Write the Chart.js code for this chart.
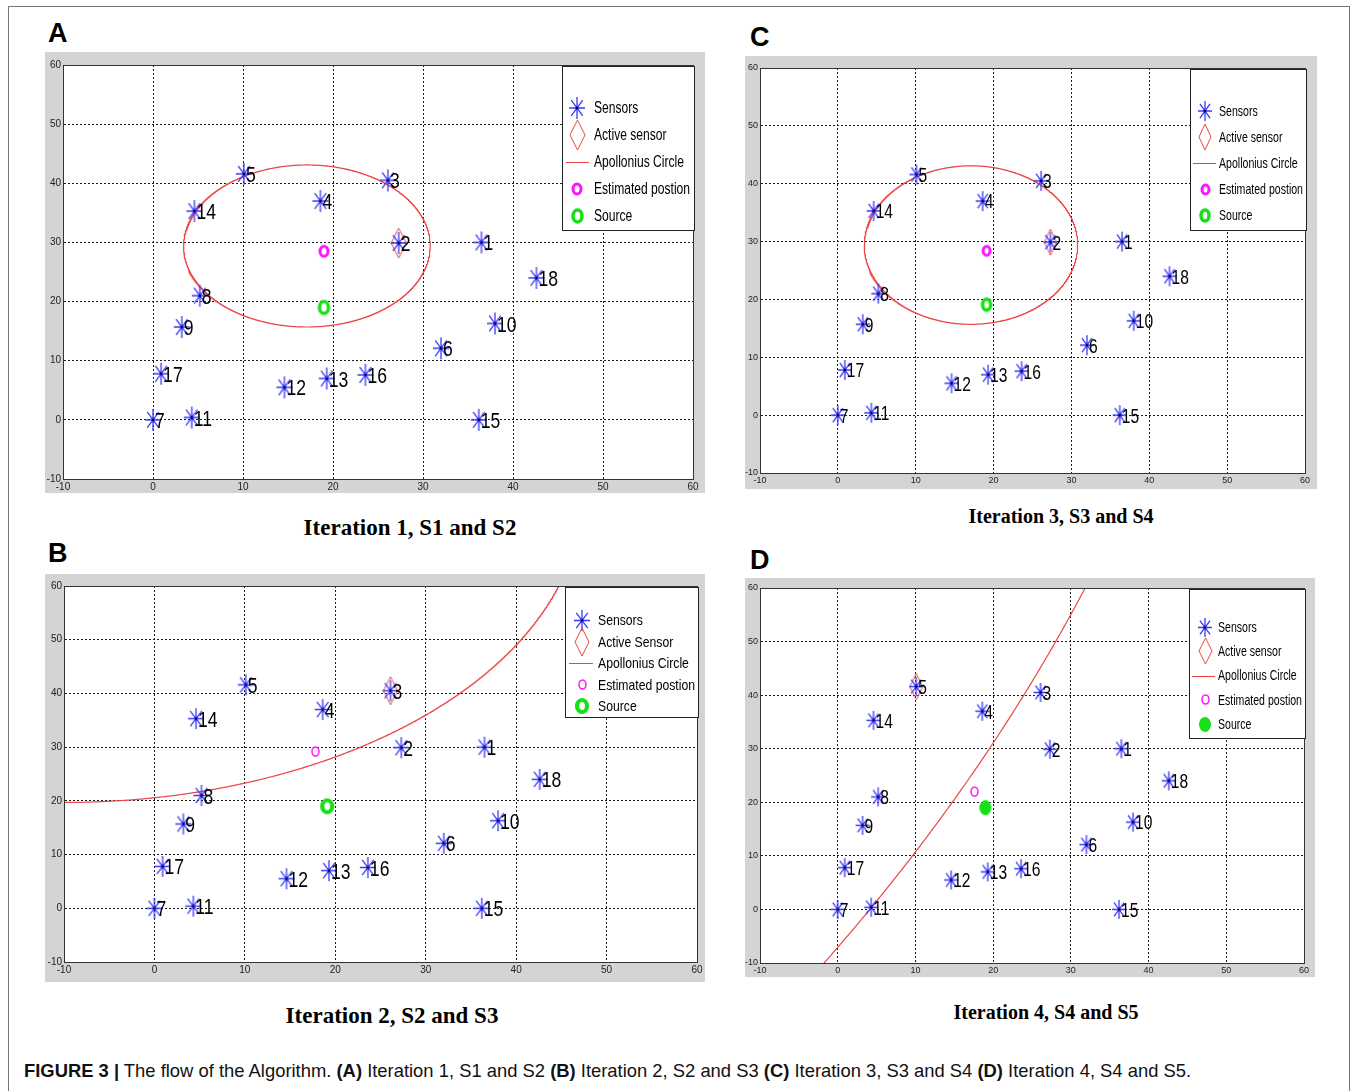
<!DOCTYPE html>
<html><head><meta charset="utf-8">
<script src="https://cdn.jsdelivr.net/npm/chart.js@4.4.1/dist/chart.umd.min.js"></script>
<style>
html,body{margin:0;padding:0;background:#fff;}
body{width:1356px;height:1091px;position:relative;overflow:hidden;font-family:"Liberation Sans",Arial,sans-serif;}
.outer{position:absolute;left:8px;top:6px;width:1342px;height:1110px;border:1px solid #777;box-sizing:border-box;}
.letter{position:absolute;font:bold 27px/27px "Liberation Sans",Arial,sans-serif;color:#000;}
.sub{position:absolute;font-family:"Liberation Serif","Times New Roman",serif;font-weight:bold;color:#000;white-space:nowrap;transform:translate(-50%,-50%);line-height:1;}
canvas{position:absolute;}
.cap{position:absolute;left:24px;top:1059px;font:18.4px/24px "Liberation Sans",Arial,sans-serif;white-space:nowrap;color:#111;}
</style></head>
<body>
<div class="outer"></div>
<div class="cap" id="cap"><b>FIGURE 3 |</b> The flow of the Algorithm. <b>(A)</b> Iteration 1, S1 and S2 <b>(B)</b> Iteration 2, S2 and S3 <b>(C)</b> Iteration 3, S3 and S4 <b>(D)</b> Iteration 4, S4 and S5.</div>
<script>
// ---------------- DATA ----------------
const panelKeys = ['A', 'B', 'C', 'D'];
const panelTitles = ['Iteration 1, S1 and S2', 'Iteration 2, S2 and S3', 'Iteration 3, S3 and S4', 'Iteration 4, S4 and S5'];
const sensorIds = ['1','2','3','4','5','6','7','8','9','10','11','12','13','14','15','16','17','18'];
const sensorX = [36.5, 27.3, 26.1, 18.6, 10.1, 32.0, 0.0, 5.2, 3.2, 38.0, 4.3, 14.6, 19.3, 4.6, 36.2, 23.6, 0.9, 42.6];
const sensorY = [30.0, 29.9, 40.5, 37.0, 41.6, 12.1, 0.0, 21.0, 15.7, 16.3, 0.4, 5.5, 7.0, 35.3, 0.0, 7.6, 7.8, 24.0];
const activeSensor = [2, 3, 2, 5];            // per panel A,B,C,D
const estimatedX = [19.0, 17.8, 19.1, 17.6];
const estimatedY = [28.5, 29.2, 28.4, 22.0];
const sourceX = [19.0, 19.1, 19.1, 19.0];
const sourceY = [19.0, 19.0, 19.1, 19.0];
const circleCx = [17.1, -10.0, 17.1, -338.0];
const circleCy = [29.4, 77.0, 29.4, 194.4];
const circleR = [13.7, 57.3, 13.7, 393.5];
const tickValues = [-10, 0, 10, 20, 30, 40, 50, 60];
const legendLabelsA = ['Sensors', 'Active sensor', 'Apollonius Circle', 'Estimated postion', 'Source'];
const legendLabelsB = ['Sensors', 'Active Sensor', 'Apollonius Circle', 'Estimated postion', 'Source'];
const legendLabels = [legendLabelsA, legendLabelsB, legendLabelsA, legendLabelsA];

// ---------------- LAYOUT / STYLE ----------------
const layouts = [
 { frame:[45,52,705,493], plot:[63,65,693,479], star:[16,22], diamond:[15,30],
   est:{rx:4,ry:5,lw:3,fill:false}, src:{rx:4.5,ry:6,lw:3.5,fill:false},
   label:{size:22,sx:0.8,dx:2,dy:2}, tick:10,
   legend:{w:132,h:164,first:42,step:27,sym:15,text:32,font:16,fit:96,line:[4,27]},
   letter:[48,20], sub:{x:410,y:527,size:23} },
 { frame:[45,574,705,982], plot:[64,586,697,962], star:[16,21], diamond:[14,28],
   est:{rx:3.5,ry:4.5,lw:1.5,fill:false}, src:{rx:5,ry:6,lw:4.2,fill:false},
   label:{size:22,sx:0.8,dx:2,dy:2}, tick:10,
   legend:{w:133,h:130,first:33,step:21.5,sym:17,text:33,font:15,fit:97,line:[4,28]},
   letter:[48,540], sub:{x:392,y:1015,size:23} },
 { frame:[745,56,1317,489], plot:[760,68,1305,473], star:[14,20], diamond:[12,26],
   est:{rx:3.5,ry:4.5,lw:3,fill:false}, src:{rx:4,ry:5.5,lw:3.5,fill:false},
   label:{size:19.5,sx:0.8,dx:2,dy:2}, tick:9,
   legend:{w:116,h:161,first:42,step:26,sym:15,text:29,font:14.5,fit:84,line:[3,26]},
   letter:[750,24], sub:{x:1061,y:516,size:20} },
 { frame:[745,578,1315,977], plot:[760,588,1304,963], star:[14,19], diamond:[13,26],
   est:{rx:3.5,ry:4.5,lw:1.5,fill:false}, src:{rx:6,ry:7.5,lw:0,fill:true},
   label:{size:19.5,sx:0.8,dx:2,dy:2}, tick:9,
   legend:{w:116,h:149,first:38,step:24.3,sym:16,text:29,font:14,fit:84,line:[3,26]},
   letter:[750,547], sub:{x:1046,y:1012,size:20} }
];
const BLUE = '#3a3af2', RED = '#ec4646', MAGENTA = '#ff14ff', GREEN = '#18e018', GRAY = '#d4d4d4';

// ---------------- marker images ----------------
function starImg(w, h) {
  const c = document.createElement('canvas'); c.width = w + 2; c.height = h + 2;
  const x = c.getContext('2d'); const cx = c.width / 2, cy = c.height / 2;
  x.strokeStyle = BLUE; x.lineWidth = 1.3; x.beginPath();
  x.moveTo(cx, 1); x.lineTo(cx, h + 1);
  x.moveTo(1, cy); x.lineTo(w + 1, cy);
  x.moveTo(cx - w * 0.36, cy - h * 0.36); x.lineTo(cx + w * 0.36, cy + h * 0.36);
  x.moveTo(cx + w * 0.36, cy - h * 0.36); x.lineTo(cx - w * 0.36, cy + h * 0.36);
  x.stroke();
  x.fillStyle = '#00007a'; x.fillRect(cx - 1.2, cy - 1.2, 2.4, 2.4);
  return c;
}
function diamondImg(w, h) {
  const c = document.createElement('canvas'); c.width = w + 2; c.height = h + 2;
  const x = c.getContext('2d'); const cx = c.width / 2, cy = c.height / 2;
  x.strokeStyle = RED; x.lineWidth = 1; x.beginPath();
  x.moveTo(cx, 1); x.lineTo(w + 1, cy); x.lineTo(cx, h + 1); x.lineTo(1, cy); x.closePath(); x.stroke();
  return c;
}
function ringImg(s, color) {
  const pad = Math.ceil(s.lw / 2) + 2;
  const c = document.createElement('canvas'); c.width = Math.ceil(2 * s.rx + 2 * pad); c.height = Math.ceil(2 * s.ry + 2 * pad);
  const x = c.getContext('2d'); x.beginPath();
  x.ellipse(c.width / 2, c.height / 2, s.rx, s.ry, 0, 0, Math.PI * 2);
  if (s.fill) { x.fillStyle = color; x.fill(); } else { x.strokeStyle = color; x.lineWidth = s.lw; x.stroke(); }
  return c;
}
function circlePoints(cx, cy, r) {
  const pts = []; const n = 4000;
  for (let i = 0; i <= n; i++) {
    const a = -Math.PI + 2 * Math.PI * i / n;
    const px = cx + r * Math.cos(a), py = cy + r * Math.sin(a);
    if (px >= -13 && px <= 63 && py >= -13 && py <= 63) pts.push({ x: px, y: py });
  }
  return pts;
}

// ---------------- plugins ----------------
const framePlugin = {
  id: 'frame',
  beforeDraw(chart) {
    const c = chart.ctx, a = chart.chartArea;
    c.save(); c.fillStyle = GRAY; c.fillRect(0, 0, chart.width, chart.height);
    c.fillStyle = '#fff'; c.fillRect(a.left, a.top, a.right - a.left, a.bottom - a.top); c.restore();
  },
  afterDatasetsDraw(chart, args, o) {
    const c = chart.ctx, a = chart.chartArea, xs = chart.scales.x, ys = chart.scales.y;
    c.save();
    c.beginPath(); c.rect(a.left, a.top, a.right - a.left, a.bottom - a.top); c.clip();
    c.font = o.label.size + 'px "Liberation Sans", Arial, sans-serif';
    c.fillStyle = '#000'; c.textBaseline = 'middle'; c.textAlign = 'left';
    sensorIds.forEach((id, k) => {
      const px = xs.getPixelForValue(sensorX[k]), py = ys.getPixelForValue(sensorY[k]);
      c.save(); c.translate(px + o.label.dx, py + o.label.dy); c.scale(o.label.sx, 1); c.fillText(id, 0, 0); c.restore();
    });
    c.restore();
  },
  afterDraw(chart, args, o) {
    const c = chart.ctx, a = chart.chartArea;
    c.save();
    c.strokeStyle = '#333'; c.lineWidth = 1;
    c.strokeRect(Math.round(a.left) + 0.5, Math.round(a.top) + 0.5, Math.round(a.right - a.left), Math.round(a.bottom - a.top));
    // legend
    const L = o.legend; const ds = chart.data.datasets;
    const bx = Math.round(a.right) - L.w + 1, by = Math.round(a.top) + 1;
    c.fillStyle = '#fff'; c.fillRect(bx, by, L.w, L.h);
    c.strokeStyle = '#222'; c.strokeRect(bx + 0.5, by + 0.5, L.w, L.h);
    c.font = L.font + 'px "Liberation Sans", Arial, sans-serif';
    const sx = L.fit / c.measureText('Estimated postion').width;
    const order = [2, 1, 0, 3, 4]; // sensors, active, circle, estimated, source
    order.forEach((di, k) => {
      const d = ds[di]; const yy = by + L.first + k * L.step;
      if (d.showLine) {
        c.strokeStyle = RED; c.lineWidth = 1; c.beginPath();
        c.moveTo(bx + L.line[0], Math.round(yy) + 0.5); c.lineTo(bx + L.line[1], Math.round(yy) + 0.5); c.stroke();
      } else {
        const img = d.pointStyle;
        c.drawImage(img, Math.round(bx + L.sym - img.width / 2), Math.round(yy - img.height / 2));
      }
      c.fillStyle = '#000'; c.textBaseline = 'middle';
      c.save(); c.translate(bx + L.text, yy + 1); c.scale(sx, 1); c.fillText(d.label, 0, 0); c.restore();
    });
    c.restore();
  }
};

// ---------------- build panels ----------------
panelKeys.forEach((key, i) => {
  const L = layouts[i];
  const [fl, ft, fr, fb] = L.frame, [pl, pt, pr, pb] = L.plot;
  const cv = document.createElement('canvas');
  cv.width = fr - fl; cv.height = fb - ft;
  cv.style.left = fl + 'px'; cv.style.top = ft + 'px';
  cv.style.width = (fr - fl) + 'px'; cv.style.height = (fb - ft) + 'px';
  document.body.appendChild(cv);

  const lt = document.createElement('div'); lt.className = 'letter'; lt.textContent = key;
  lt.style.left = L.letter[0] + 'px'; lt.style.top = L.letter[1] + 'px'; document.body.appendChild(lt);
  const st = document.createElement('div'); st.className = 'sub'; st.textContent = panelTitles[i];
  st.style.left = L.sub.x + 'px'; st.style.top = L.sub.y + 'px'; st.style.fontSize = L.sub.size + 'px';
  document.body.appendChild(st);

  const labels = legendLabels[i];
  const act = activeSensor[i] - 1;
  const tickFont = { size: L.tick, family: '"Liberation Sans Narrow","Liberation Sans",Arial,sans-serif' };
  const axis = (isX) => ({
    type: 'linear', min: tickValues[0], max: tickValues[tickValues.length - 1],
    afterBuildTicks: (s) => { s.ticks = tickValues.map(v => ({ value: v })); },
    ticks: { font: tickFont, color: '#222', padding: 2, autoSkip: false, maxRotation: 0 },
    grid: { color: '#1a1a1a', lineWidth: 1, drawTicks: false, tickLength: 0 },
    border: { display: true, color: '#333', width: 1, dash: [2, 2] },
    afterFit: (s) => { if (isX) s.height = fb - pb; else s.width = pl - fl; }
  });

  new Chart(cv, {
    type: 'scatter',
    data: {
      datasets: [
        { label: labels[2], data: circlePoints(circleCx[i], circleCy[i], circleR[i]), showLine: true,
          borderColor: RED, borderWidth: 1.2, pointRadius: 0, tension: 0, order: 5 },
        { label: labels[1], data: [{ x: sensorX[act], y: sensorY[act] }], pointStyle: diamondImg(L.diamond[0], L.diamond[1]), order: 4 },
        { label: labels[0], data: sensorX.map((v, k) => ({ x: v, y: sensorY[k] })), pointStyle: starImg(L.star[0], L.star[1]), order: 3 },
        { label: labels[3], data: [{ x: estimatedX[i], y: estimatedY[i] }], pointStyle: ringImg(L.est, MAGENTA), order: 2 },
        { label: labels[4], data: [{ x: sourceX[i], y: sourceY[i] }], pointStyle: ringImg(L.src, GREEN), order: 1 }
      ]
    },
    options: {
      responsive: false, animation: false, devicePixelRatio: 1,
      layout: { padding: { top: pt - ft, right: fr - pr, left: 0, bottom: 0 } },
      scales: { x: axis(true), y: axis(false) },
      plugins: { legend: { display: false }, tooltip: { enabled: false },
        frame: { label: L.label, legend: L.legend } }
    },
    plugins: [framePlugin]
  });
});
</script>
</body></html>
